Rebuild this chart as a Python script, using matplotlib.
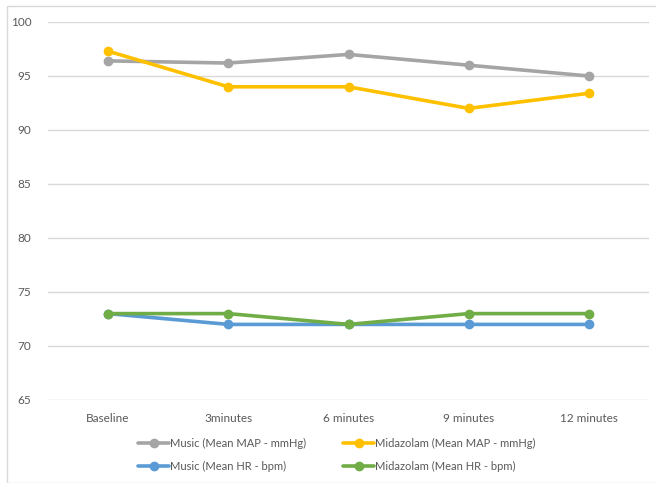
import matplotlib
matplotlib.use("Agg")
import matplotlib.pyplot as plt
from matplotlib.patches import Rectangle

plt.rcParams['font.family'] = ['Lato', 'DejaVu Sans']

categories = ["Baseline", "3minutes", "6 minutes", "9 minutes", "12 minutes"]
music_map = [96.4, 96.2, 97.0, 96.0, 95.0]
midazolam_map = [97.3, 94.0, 94.0, 92.0, 93.4]
music_hr = [73, 72, 72, 72, 72]
midazolam_hr = [73, 73, 72, 73, 73]

series = [
    ("Music (Mean MAP - mmHg)", music_map, "#A5A5A5"),
    ("Midazolam (Mean MAP - mmHg)", midazolam_map, "#FFC000"),
    ("Music (Mean HR - bpm)", music_hr, "#5B9BD5"),
    ("Midazolam (Mean HR - bpm)", midazolam_hr, "#70AD47"),
]

fig = plt.figure(figsize=(6.56, 4.83), dpi=100)
W, H = 656, 483
ax = fig.add_axes([48 / W, 1 - 400 / H, 601 / W, 378 / H])

x = list(range(len(categories)))
handles = []
for label, vals, color in series:
    h, = ax.plot(x, vals, color=color, linewidth=2.6, marker='o', markersize=6,
                 label=label, solid_capstyle='round', zorder=3)
    handles.append(h)

ax.set_xlim(-0.5, len(categories) - 0.5)
ax.set_ylim(65, 100)
ax.set_yticks([65, 70, 75, 80, 85, 90, 95, 100])
ax.set_xticks(x)
ax.set_xticklabels(categories)
ax.grid(axis='y', color='#D9D9D9', linewidth=1)
ax.set_axisbelow(True)
for s in ax.spines.values():
    s.set_visible(False)
ax.tick_params(axis='both', length=0, labelsize=8.5, labelcolor='#595959')
ax.tick_params(axis='y', pad=12)
ax.tick_params(axis='x', pad=9)

# matplotlib fills legend columns first; order so rows read MAP, then HR
order = [0, 2, 1, 3]
fig.legend(handles=[handles[i] for i in order], loc='center',
           bbox_to_anchor=(337 / W, 1 - 455 / H),
           ncol=2, frameon=False, fontsize=8, labelcolor='#595959',
           handlelength=2.8, handletextpad=0.1, columnspacing=3.3,
           labelspacing=1.1)

fig.patches.append(Rectangle((7 / W, 0), 1 - 7 / W + 0.01, 1 - 6 / H,
                             transform=fig.transFigure, fill=False,
                             edgecolor='#D9D9D9', linewidth=1))

fig.savefig("out.png", dpi=100, facecolor='white')
